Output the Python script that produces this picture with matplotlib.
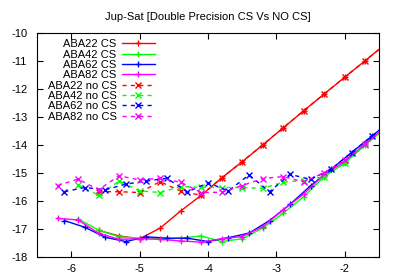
import numpy as np
import matplotlib
matplotlib.use("Agg")
import matplotlib.pyplot as plt

plt.rcParams['font.family'] = ['Liberation Sans', 'DejaVu Sans']
plt.rcParams['axes.unicode_minus'] = False

# x grids (each series has its own sampling)
x_aba22 = [-5.6, -5.3, -5.0, -4.7, -4.4, -4.1, -3.8, -3.5, -3.2, -2.9, -2.6, -2.3, -2.0, -1.7, -1.4]
x_aba42 = [-5.9, -5.6, -5.3, -5.0, -4.7, -4.4, -4.1, -3.8, -3.5, -3.2, -2.9, -2.6, -2.3, -2.0, -1.7, -1.4]
x_aba62 = [-6.1, -5.8, -5.5, -5.2, -4.9, -4.6, -4.3, -4.0, -3.7, -3.4, -3.1, -2.8, -2.5, -2.2, -1.9, -1.6, -1.3]
x_aba82 = [-6.2, -5.9, -5.6, -5.3, -5.0, -4.7, -4.4, -4.1, -3.8, -3.5, -3.2, -2.9, -2.6, -2.3, -2.0, -1.7, -1.4]

# with CS
aba22_cs = [-17.05, -17.25, -17.35, -16.97, -16.36, -15.80, -15.18, -14.60, -14.00, -13.39,
            -12.78, -12.18, -11.58, -10.99, -10.39]
aba42_cs = [-16.64, -17.04, -17.28, -17.33, -17.35, -17.33, -17.25, -17.45, -17.35, -16.97,
            -16.44, -15.85, -15.13, -14.65, -14.00, -13.40]
aba62_cs = [-16.70, -16.94, -17.30, -17.45, -17.28, -17.33, -17.33, -17.45, -17.31, -17.15,
            -16.70, -16.12, -15.46, -14.87, -14.27, -13.68, -13.08]
aba82_cs = [-16.62, -16.68, -17.15, -17.37, -17.35, -17.37, -17.43, -17.47, -17.35, -17.27,
            -16.92, -16.32, -15.75, -15.05, -14.60, -13.96, -13.35]

# without CS
aba22_nocs = [-15.67, -15.67, -15.70, -15.31, -15.65, -15.80, -15.18, -14.60, -14.00, -13.39,
              -12.78, -12.18, -11.58, -10.99, -10.39]
aba42_nocs = [-15.43, -15.79, -15.29, -15.64, -15.70, -15.49, -15.51, -15.52, -15.52, -15.55,
              -15.33, -15.27, -15.13, -14.65, -14.00, -13.40]
aba62_nocs = [-15.67, -15.52, -15.60, -15.40, -15.29, -15.19, -15.68, -15.35, -15.64, -15.07,
              -15.67, -15.05, -15.23, -14.87, -14.27, -13.68, -13.08]
aba82_nocs = [-15.45, -15.22, -15.60, -15.10, -15.25, -15.19, -15.33, -15.70, -15.69, -15.45,
              -15.20, -15.13, -15.32, -14.99, -14.55, -13.96, -13.35]

fig = plt.figure(figsize=(3.99, 2.79), dpi=100)
ax = fig.add_axes([0.0927, 0.079, 0.857, 0.803])

ms = 5
ax.plot(x_aba22, aba22_cs, color='#ff0000', lw=1, marker='+', ms=ms, mew=1, label='ABA22 CS')
ax.plot(x_aba42, aba42_cs, color='#00ff00', lw=1, marker='+', ms=ms, mew=1, label='ABA42 CS')
ax.plot(x_aba62, aba62_cs, color='#0000ff', lw=1, marker='+', ms=ms, mew=1, label='ABA62 CS')
ax.plot(x_aba82, aba82_cs, color='#ff00ff', lw=1, marker='+', ms=ms, mew=1, label='ABA82 CS')
dash = (0, (3, 3))
ax.plot(x_aba22, aba22_nocs, color='#ff0000', lw=1, ls=dash, marker='x', ms=ms, mew=1, label='ABA22 no CS')
ax.plot(x_aba42, aba42_nocs, color='#00ff00', lw=1, ls=dash, marker='x', ms=ms, mew=1, label='ABA42 no CS')
ax.plot(x_aba62, aba62_nocs, color='#0000ff', lw=1, ls=dash, marker='x', ms=ms, mew=1, label='ABA62 no CS')
ax.plot(x_aba82, aba82_nocs, color='#ff00ff', lw=1, ls=dash, marker='x', ms=ms, mew=1, label='ABA82 no CS')

ax.set_xlim(-6.5, -1.5)
ax.set_ylim(-18, -10)
ax.set_xticks([-6, -5, -4, -3, -2])
ax.set_yticks(range(-18, -9))
ax.tick_params(direction='in', length=4, width=0.8, top=True, right=True, labelsize=8)
ax.tick_params(axis='y', pad=7)
ax.tick_params(axis='x', pad=5)
for s in ax.spines.values():
    s.set_linewidth(0.8)

ax.set_title('Jup-Sat [Double Precision CS Vs NO CS]', fontsize=8, pad=9)

# markerfirst=False -> labels on the left, right-aligned like gnuplot
ax.legend(loc='upper right', bbox_to_anchor=(0.345, 0.972), frameon=False, fontsize=8,
          markerfirst=False, labelspacing=0.03, handlelength=3.0, handletextpad=0.45,
          borderaxespad=0, borderpad=0)

fig.savefig('out.png', dpi=100)
